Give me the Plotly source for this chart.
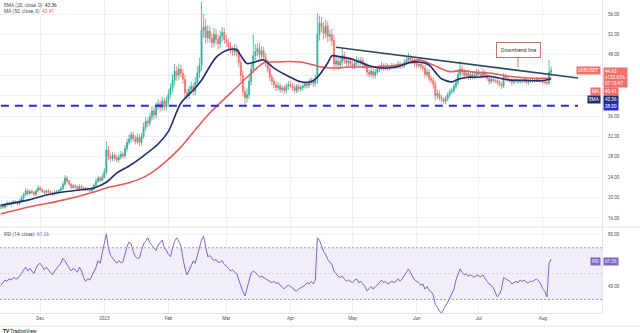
import plotly.graph_objects as go
import pandas as pd

# ---------------- data ----------------
close_nov = [18.4,18.1,18.6,18.9,18.7,18.9,19.2,19.0,18.8,19.3,19.9,20.6,21.3,20.8,21.2,21.0,20.6,21.3,21.9]
close_dec = [21.6,21.2,21.0,21.3,21.1,20.9,20.7,21.0,21.2,21.4,21.8,22.6,23.8,23.2,22.6,22.0,22.3,22.1,21.7,22.2,
             21.9,21.6,21.8,21.5,21.4,21.7,22.4,23.2,23.8,23.4,24.0]
close_jan = [25.0,29.3,28.0,27.6,28.3,27.8,27.4,27.9,28.5,28.2,29.6,30.8,31.5,32.3,31.6,31.0,31.8,30.8,32.0,33.8,
             35.0,34.6,35.8,37.0,36.2,37.8,38.4,37.6,38.9,37.8,39.0]
close_feb = [40.2,41.5,43.0,44.8,44.0,45.2,44.4,43.2,40.6,40.0,41.2,41.8,40.8,42.6,44.5,46.0,52.8,53.5,51.4,52.6,
             51.2,50.4,52.0,51.0,50.2,51.6,52.4,51.0]
close_mar = [50.4,49.6,49.0,48.6,49.2,48.4,46.5,44.0,40.8,39.6,40.2,42.8,45.2,47.8,48.6,49.2,48.0,48.8,47.6,46.4,
             45.2,43.6,42.8,42.2,41.6,41.9,41.2,41.5,41.0,41.8,42.2]
close_apr = [42.0,41.6,41.0,41.8,41.3,41.6,41.9,42.3,42.0,42.6,43.0,42.4,43.2,52.0,54.2,53.4,52.2,53.6,51.6,52.0,
             50.8,46.2,46.8,46.0,46.6,47.8,47.0,46.4,46.8,46.2]
close_may = [45.8,46.4,46.9,46.5,46.9,46.2,45.8,44.6,44.2,44.8,44.0,44.6,45.2,45.4,45.9,45.5,45.8,45.4,45.6,45.9,
             45.6,45.8,46.2,45.8,45.9,46.5,46.9,47.4,47.1,46.8,46.3]
close_jun = [45.9,46.1,45.7,45.4,44.2,44.6,43.4,43.0,42.2,40.0,40.4,39.6,39.2,38.9,39.4,40.2,40.8,41.0,41.8,42.6,
             44.2,45.2,44.6,44.0,44.4,43.6,44.2,43.8,44.0,44.6]
close_jul = [44.2,44.0,44.6,44.0,43.4,42.8,43.2,43.0,42.9,42.6,42.3,41.9,43.8,43.4,43.1,43.0,42.6,42.8,43.0,42.7,
             42.9,42.8,43.1,42.6,42.8,43.0,42.9,43.1,43.2,43.0,42.9]
close_aug = [42.7,42.6,42.5,44.6,44.93]

wick_up_nov = [0.3,0.4,0.3,0.5,0.3,0.3,0.4,0.3,0.3,0.4,0.5,0.4,0.6,0.4,0.3,0.4,0.3,0.4,0.5]
wick_up_dec = [0.4,0.3,0.3,0.3,0.4,0.3,0.3,0.4,0.3,0.3,0.4,0.6,0.6,0.4,0.3,0.3,0.4,0.3,0.3,0.4,0.3,0.3,0.3,0.2,0.3,0.3,0.4,0.5,0.5,0.4,0.6]
wick_up_jan = [0.8,1.7,0.8,0.6,0.7,0.5,0.6,0.5,0.6,0.5,0.7,0.8,0.9,0.7,0.6,0.6,0.8,0.6,0.7,0.9,0.8,0.7,0.8,0.9,0.7,0.8,0.9,0.6,0.9,0.7,0.8]
wick_up_feb = [1.0,0.9,1.2,1.4,1.0,1.1,0.9,0.8,0.9,0.7,0.8,0.9,0.7,1.0,1.2,1.4,5.6,2.5,1.5,1.2,1.1,1.0,1.3,1.0,0.9,1.1,1.0,0.9]
wick_up_mar = [0.9,0.8,0.9,0.7,0.9,0.8,0.7,0.8,0.9,0.9,1.2,1.0,1.3,4.2,1.5,1.0,1.2,0.9,0.8,0.8,0.7,0.6,0.7,0.6,0.6,0.7,0.6,0.5,0.6,0.7,0.6]
wick_up_apr = [0.6,0.5,0.6,0.5,0.6,0.5,0.6,0.5,0.6,0.7,0.6,0.5,0.8,4.2,1.5,1.2,1.0,1.3,1.0,0.9,1.1,1.2,1.0,0.9,0.8,1.5,0.8,0.7,0.8,0.7]
wick_up_may = [0.7,0.6,0.8,0.6,0.7,0.6,0.5,0.6,0.5,0.7,0.5,0.6,0.5,0.6,0.7,0.5,0.6,0.5,0.4,0.5,0.4,0.5,0.6,0.5,0.4,0.6,0.7,1.0,0.6,0.5,0.5]
wick_up_jun = [0.6,0.5,0.6,0.5,0.6,0.7,0.6,0.5,0.6,0.7,0.8,0.6,0.5,0.5,0.6,0.5,0.6,0.5,0.6,0.7,1.0,1.6,0.8,0.7,0.6,0.7,0.6,0.5,0.6,0.7]
wick_up_jul = [0.6,0.5,0.6,0.5,0.4,0.5,0.6,0.4,0.5,0.4,0.5,0.4,0.6,0.5,0.4,0.3,0.4,0.5,0.4,0.3,0.4,0.3,0.4,0.3,0.4,0.3,0.4,0.3,0.4,0.3,0.4]
wick_up_aug = [0.4,0.3,0.4,2.4,0.8]

wick_dn_nov = [0.5,0.3,0.3,0.4,0.3,0.4,0.3,0.3,0.4,0.3,0.3,0.4,0.3,0.5,0.3,0.3,0.4,0.3,0.3]
wick_dn_dec = [0.3,0.3,0.3,0.3,0.3,0.3,0.4,0.3,0.3,0.3,0.3,0.3,0.4,0.4,0.3,0.4,0.3,0.3,0.4,0.3,0.3,0.3,0.3,0.2,0.3,0.3,0.3,0.4,0.3,0.4,0.3]
wick_dn_jan = [0.3,0.5,0.7,0.6,0.5,0.6,0.5,0.6,0.5,0.6,0.5,0.6,0.5,0.7,0.6,0.6,0.5,0.8,0.6,0.5,0.7,0.8,0.6,0.7,0.9,0.6,0.7,0.9,0.6,0.8,0.7]
wick_dn_feb = [0.8,0.7,0.9,1.0,1.1,0.9,0.8,0.9,1.2,0.9,0.7,0.8,0.8,0.7,0.9,1.0,1.2,1.5,1.2,1.0,0.9,1.1,0.9,1.0,1.1,0.9,1.0,0.9]
wick_dn_mar = [0.8,0.9,0.7,0.8,0.7,0.8,1.0,1.2,1.0,1.8,1.0,0.9,0.8,0.9,1.0,0.9,1.0,0.8,0.9,0.8,0.7,0.8,0.7,0.8,0.7,0.6,0.7,0.6,0.7,0.6,0.7]
wick_dn_apr = [0.6,0.7,0.6,0.5,0.6,0.5,0.6,0.5,0.6,0.5,0.6,0.7,0.6,0.8,1.2,1.0,1.1,1.0,1.2,0.9,1.0,1.3,0.9,1.0,0.8,0.9,0.8,0.7,0.8,0.7]
wick_dn_may = [0.6,0.7,0.6,0.7,0.6,0.7,0.6,0.8,0.7,0.6,0.7,0.6,0.5,0.6,0.5,0.6,0.5,0.6,0.5,0.4,0.5,0.4,0.5,0.6,0.4,0.5,0.5,0.6,0.5,0.6,0.7]
wick_dn_jun = [0.6,0.5,0.6,0.7,0.8,0.6,0.7,0.6,0.8,1.0,0.7,0.6,0.5,0.5,0.6,0.5,0.6,0.5,0.6,0.5,0.6,0.7,0.8,0.6,0.5,0.6,0.5,0.6,0.5,0.6]
wick_dn_jul = [0.5,0.6,0.5,0.6,0.5,0.6,0.5,0.4,0.5,0.6,0.5,0.6,0.4,0.5,0.4,0.5,0.6,0.4,0.3,0.4,0.3,0.4,0.3,0.4,0.5,0.3,0.4,0.3,0.4,0.3,0.4]
wick_dn_aug = [0.5,0.4,0.5,0.4,0.6]

rsi_nov = [41,43,45,44,46,45,47,46,46,48,50,53,55,52,54,52,50,54,57]
rsi_dec = [58,55,53,55,53,51,49,52,54,56,58,61.7,60,57,54,52,54,53,51,55,52,47,44,46,45,48,52,55,60,58,66]
rsi_jan = [74,80.8,70,64,62,60,58,60,58.5,59,66,71,74.5,73,67,63,61.7,62,68,73,75,77.7,74,72,70,68,72,74,76,70,68]
rsi_feb = [65,63,70,75,77.7,75,72,62,54,49,52,56,60,58,64,70,76,79,70,63,64,62,60,61,58.5,59,60,57]
rsi_mar = [56,54,52,53,51,50,45,40,36,32.7,38,45,50.5,52,51,49,47.5,48,47,46,45,44,43,44,42.5,43,41,40,38,40,41]
rsi_apr = [40,39,37,36.5,38,39,40,41,43,42,44,42,45,77.7,76,72,67,65,61,59,57,52,50,48,47,48,46,44,45,44]
rsi_may = [43,45,46,43,44,42,40,36.6,38,40,38,40,41,43,45,43,44,42,43,44,43,44,46,44,46,49,51,53.6,51,48,45]
rsi_jun = [44,43,41,42,38,40,37,36,33.5,26,24,21,19.5,22,25,28,31,34,38,45,50,53.6,51,49,50,48,49,48,47,49]
rsi_jul = [48,47.5,49,46,44,42,41,39,35,32,34,38,47,46,45,44,42,43,44,43,45,44,45,43,43,44,44,45,46,44,42]
rsi_aug = [38,36,32,58,61.26]

first_open = 18.2
start_date = "2022-11-12"

ema_dates = ["2022-11-12","2022-11-26","2022-12-04","2022-12-12","2022-12-20","2022-12-27","2023-01-02","2023-01-07",
             "2023-01-13","2023-01-20","2023-01-27","2023-02-01","2023-02-07","2023-02-14","2023-02-17","2023-02-24",
             "2023-03-02","2023-03-06","2023-03-08","2023-03-11","2023-03-15","2023-03-19","2023-03-24","2023-03-31",
             "2023-04-06","2023-04-11","2023-04-14","2023-04-19","2023-04-21","2023-04-25","2023-05-02","2023-05-08",
             "2023-05-15","2023-05-22","2023-05-28","2023-06-02","2023-06-07","2023-06-10","2023-06-13","2023-06-18",
             "2023-06-21","2023-06-26","2023-07-01","2023-07-06","2023-07-15","2023-07-23","2023-07-31","2023-08-04",
             "2023-08-05"]
ema_vals = [18.5,19.6,20.5,21.1,21.5,21.9,23.0,24.8,26.2,28.2,30.5,33.0,38.5,41.5,43.0,47.5,49.0,49.0,47.8,46.3,
            46.6,47.0,45.4,43.8,42.7,42.7,43.6,46.4,47.8,47.6,47.0,46.0,45.4,45.6,46.4,46.6,46.0,44.6,43.3,42.7,
            43.2,43.6,43.6,43.8,43.1,43.0,42.9,43.2,43.36]

ma_dates = ["2022-11-12","2022-11-26","2022-12-12","2022-12-27","2023-01-02","2023-01-13","2023-01-22","2023-01-30",
            "2023-02-07","2023-02-15","2023-02-21","2023-03-03","2023-03-11","2023-03-19","2023-03-24","2023-04-06",
            "2023-04-16","2023-04-23","2023-04-29","2023-05-10","2023-05-24","2023-06-02","2023-06-09","2023-06-17",
            "2023-06-22","2023-06-29","2023-07-07","2023-07-15","2023-07-23","2023-07-31","2023-08-05"]
ma_vals = [16.8,18.2,19.5,21.1,21.9,22.9,24.4,26.8,29.9,33.8,36.6,40.5,43.6,46.4,46.6,46.6,45.6,45.4,45.6,45.6,
           46.0,47.0,46.0,44.7,44.9,44.6,44.4,43.8,43.5,43.4,43.41]

trend_dates = ["2023-04-23", "2023-08-18"]
trend_vals = [49.5, 43.45]
support_dates = ["2022-11-12", "2023-08-18"]
support_level = 38.0

month_ticks = ["2022-12-01","2023-01-01","2023-02-01","2023-03-01","2023-04-01","2023-05-01","2023-06-01","2023-07-01","2023-08-01"]
month_labels = ["Dec","2023","Feb","Mar","Apr","May","Jun","Jul","Aug"]
price_ticks = [16,20,24,28,32,36,40,44,48,52,56]
price_tick_text = ["16.00","20.00","24.00","28.00","32.00","36.00","","","48.00","52.00","56.00"]
rsi_ticks = [40, 60, 80]
rsi_tick_text = ["40.00", "", "80.00"]

last_price = 44.93
last_change = "+132.63%"
countdown = "07:15:47"
ema_last = 43.36
ma_last = 43.41
rsi_last = 61.26

# ---------------- assemble ----------------
closes = close_nov + close_dec + close_jan + close_feb + close_mar + close_apr + close_may + close_jun + close_jul + close_aug
wick_up = wick_up_nov + wick_up_dec + wick_up_jan + wick_up_feb + wick_up_mar + wick_up_apr + wick_up_may + wick_up_jun + wick_up_jul + wick_up_aug
wick_dn = wick_dn_nov + wick_dn_dec + wick_dn_jan + wick_dn_feb + wick_dn_mar + wick_dn_apr + wick_dn_may + wick_dn_jun + wick_dn_jul + wick_dn_aug
rsi = rsi_nov + rsi_dec + rsi_jan + rsi_feb + rsi_mar + rsi_apr + rsi_may + rsi_jun + rsi_jul + rsi_aug

n = len(closes)
dates = pd.date_range(start_date, periods=n, freq="D")
opens = [first_open] + closes[:-1]          # 24/7 market: each daily bar opens at the prior close
highs = [max(o, c) + w for o, c, w in zip(opens, closes, wick_up)]
lows = [min(o, c) - w for o, c, w in zip(opens, closes, wick_dn)]

GREEN = "#3aac9e"
RED = "#f0706c"
NAVY = "#1f2f6e"
MARED = "#e35d5b"
PURPLE = "#8064c4"
BLUE = "#2b2bd8"
FONT = "Roboto"
TXT = "#50535e"
GRID = "#eef0f5"

fig = go.Figure()

fig.add_trace(go.Candlestick(
    x=dates, open=opens, high=highs, low=lows, close=closes,
    increasing=dict(line=dict(color=GREEN, width=0.8), fillcolor=GREEN),
    decreasing=dict(line=dict(color=RED, width=0.8), fillcolor=RED),
    xaxis="x", yaxis="y", showlegend=False, hoverinfo="skip"))

fig.add_trace(go.Scatter(x=pd.to_datetime(ma_dates), y=ma_vals, mode="lines",
                         line=dict(color=MARED, width=1.6, shape="spline", smoothing=0.8),
                         xaxis="x", yaxis="y", showlegend=False, hoverinfo="skip"))
fig.add_trace(go.Scatter(x=pd.to_datetime(ema_dates), y=ema_vals, mode="lines",
                         line=dict(color=NAVY, width=1.6, shape="spline", smoothing=0.8),
                         xaxis="x", yaxis="y", showlegend=False, hoverinfo="skip"))
fig.add_trace(go.Scatter(x=pd.to_datetime(support_dates), y=[support_level, support_level], mode="lines",
                         line=dict(color=BLUE, width=2, dash="8px,6px"),
                         xaxis="x", yaxis="y", showlegend=False, hoverinfo="skip"))
fig.add_trace(go.Scatter(x=pd.to_datetime(trend_dates), y=trend_vals, mode="lines",
                         line=dict(color="#2e4a5e", width=1.6),
                         xaxis="x", yaxis="y", showlegend=False, hoverinfo="skip"))

fig.add_trace(go.Scatter(x=dates, y=rsi, mode="lines", line=dict(color=PURPLE, width=1),
                         xaxis="x", yaxis="y2", showlegend=False, hoverinfo="skip"))

shapes = [
    dict(type="rect", xref="paper", x0=0, x1=1, yref="y2", y0=30, y1=70,
         fillcolor="rgba(126,87,194,0.10)", line=dict(width=0), layer="below"),
    dict(type="line", xref="paper", x0=0, x1=1, yref="y2", y0=70, y1=70,
         line=dict(color="#9ea1ab", width=1, dash="2px,2px")),
    dict(type="line", xref="paper", x0=0, x1=1, yref="y2", y0=50, y1=50,
         line=dict(color="rgba(158,161,171,0.35)", width=1, dash="2px,2px")),
    dict(type="line", xref="paper", x0=0, x1=1, yref="y2", y0=30, y1=30,
         line=dict(color="#9ea1ab", width=1, dash="2px,2px")),
    dict(type="line", xref="paper", x0=0, x1=1.063, yref="paper", y0=0.2748, y1=0.2748,
         line=dict(color="#e0e3eb", width=1)),
    dict(type="line", xref="paper", x0=0, x1=1.063, yref="paper", y0=-0.0415, y1=-0.0415,
         line=dict(color="#e0e3eb", width=1)),
]

ann = []
def box(text, y, yref, bg, xanchor, xshift, yshift, size=4.6, color="white", yanchor="middle", align="center"):
    ann.append(dict(text=text, xref="paper", x=1, xanchor=xanchor, xshift=xshift,
                    yref=yref, y=y, yanchor=yanchor, yshift=yshift, showarrow=False,
                    bgcolor=bg, borderpad=1, align=align,
                    font=dict(family=FONT, size=size, color=color)))

box("OKBUSDT", last_price, "y", RED, "right", -1, 0)
box(f"{last_price:.2f}<br>{last_change}<br>{countdown}", last_price, "y", RED, "left", 1, 3, yanchor="top", align="left")
box("MA", ma_last, "y", RED, "right", -1, -13.7)
box(f"{ma_last:.2f}", ma_last, "y", RED, "left", 1, -13.7)
box("EMA", ema_last, "y", NAVY, "right", -1, -20.7)
box(f"{ema_last:.2f}", ema_last, "y", NAVY, "left", 1, -20.7)
box(f"{support_level:.2f}", support_level, "y", BLUE, "left", 1, -1)
box("RSI", rsi_last, "y2", PURPLE, "right", -1, -2)
box(f"{rsi_last:.2f}", rsi_last, "y2", PURPLE, "left", 1, -2)

ann.append(dict(text=f"EMA (20, close, 0)  <span style='color:{NAVY}'>{ema_last:.2f}</span>",
                xref="paper", x=0, xanchor="left", xshift=2, yref="paper", y=1, yanchor="top", yshift=0,
                showarrow=False, font=dict(family=FONT, size=4.8, color=TXT)))
ann.append(dict(text=f"MA (50, close, 0)  <span style='color:{MARED}'>{ma_last:.2f}</span>",
                xref="paper", x=0, xanchor="left", xshift=2, yref="paper", y=1, yanchor="top", yshift=-6,
                showarrow=False, font=dict(family=FONT, size=4.8, color=TXT)))
ann.append(dict(text=f"RSI (14, close)  <span style='color:{PURPLE}'>{rsi_last:.2f}</span>",
                xref="paper", x=0, xanchor="left", xshift=2, yref="paper", y=0.2748, yanchor="top", yshift=-2,
                showarrow=False, font=dict(family=FONT, size=4.8, color=TXT)))
ann.append(dict(text="<b>TV</b> TradingView", xref="paper", x=0, xanchor="left", xshift=1,
                yref="paper", y=-0.0415, yanchor="top", yshift=-1, showarrow=False,
                font=dict(family=FONT, size=4.8, color="#131722")))
ann.append(dict(text="Downtrend line", xref="x", x=pd.Timestamp("2023-07-20"), yref="y", y=45.6,
                showarrow=True, arrowhead=0, arrowwidth=1, arrowcolor="#c9776d", ax=0, ay=-17,
                bordercolor="#c9776d", borderwidth=1, borderpad=4, bgcolor="white",
                font=dict(family=FONT, size=5.3, color="#3a3a3a")))

fig.update_layout(
    width=640, height=333, margin=dict(l=0, r=38, t=0, b=20),
    paper_bgcolor="white", plot_bgcolor="white",
    shapes=shapes, annotations=ann,
    xaxis=dict(type="date", anchor="y2", range=["2022-11-11 14:00", "2023-08-29 14:00"],
               tickvals=month_ticks, ticktext=month_labels, showgrid=True, gridcolor=GRID, gridwidth=1,
               tickfont=dict(family=FONT, size=4.6, color=TXT), ticks="", showline=True,
               linecolor="#e0e3eb", rangeslider=dict(visible=False), zeroline=False),
    yaxis=dict(domain=[0.278, 1], range=[14.43, 58.75], side="right", tickvals=price_ticks,
               ticktext=price_tick_text, showgrid=True, gridcolor=GRID, ticks="",
               tickfont=dict(family=FONT, size=4.6, color=TXT), showline=True, linecolor="#e0e3eb",
               zeroline=False, ticklabelstandoff=4),
    yaxis2=dict(domain=[0, 0.272], range=[19.5, 85.4], side="right", tickvals=rsi_ticks,
                ticktext=rsi_tick_text, showgrid=True, gridcolor=GRID, ticks="",
                tickfont=dict(family=FONT, size=4.6, color=TXT), showline=True, linecolor="#e0e3eb",
                zeroline=False, ticklabelstandoff=4),
)

fig.write_html("out.html")
